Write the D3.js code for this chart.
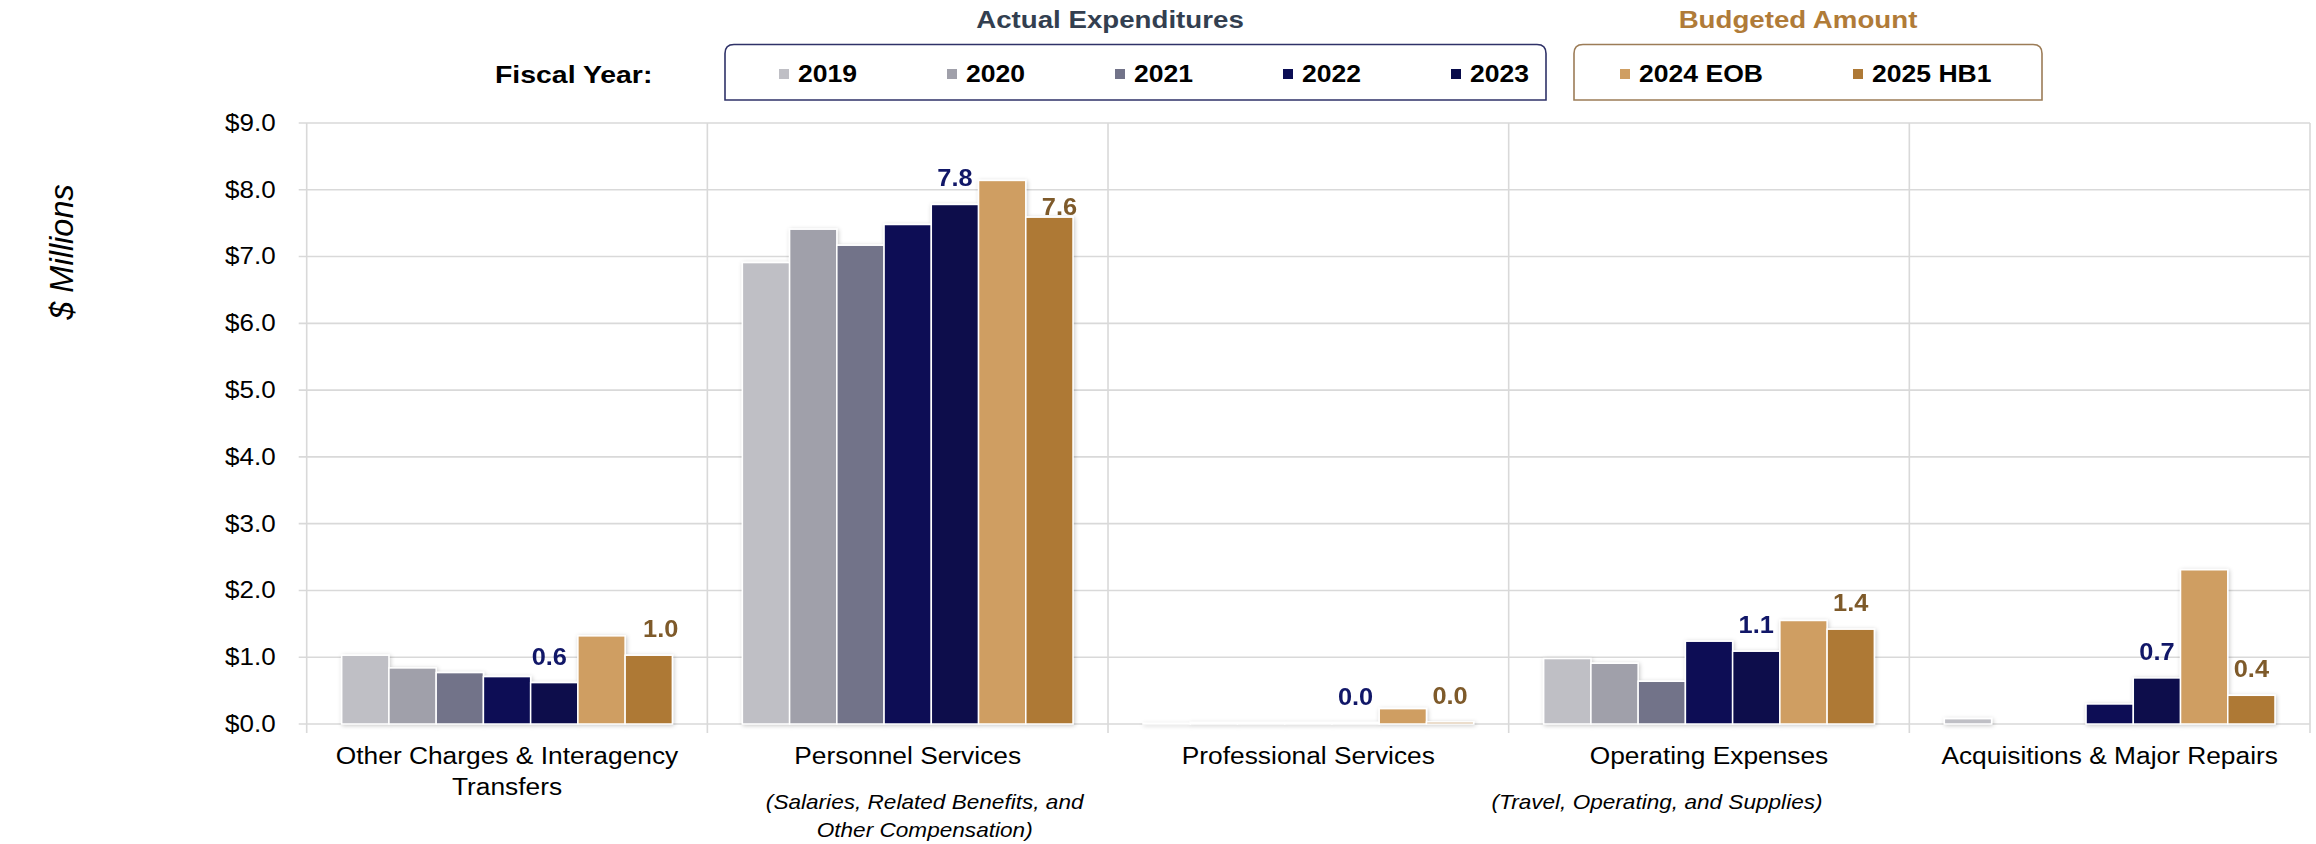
<!DOCTYPE html>
<html>
<head>
<meta charset="utf-8">
<script src="https://cdn.jsdelivr.net/npm/d3@7"></script>
<style>
  html, body { margin: 0; padding: 0; background: #fff; }
  svg { display: block; font-family: "Liberation Sans", Arial, sans-serif; }
</style>
</head>
<body>
<svg id="chart" width="2316" height="844"></svg>
<script>
// ---- data ($ millions) ----
const categories = [
  "Other Charges & Interagency Transfers",
  "Personnel Services",
  "Professional Services",
  "Operating Expenses",
  "Acquisitions & Major Repairs"
];
const seriesNames = ["2019", "2020", "2021", "2022", "2023", "2024 EOB", "2025 HB1"];
const fy2019 = [1.03, 6.91, 0.005, 0.98, 0.08];
const fy2020 = [0.84, 7.41, 0.02, 0.91, 0.0];
const fy2021 = [0.77, 7.17, 0.02, 0.64, 0.0];
const fy2022 = [0.71, 7.48, 0.02, 1.24, 0.30];
const fy2023 = [0.62, 7.78, 0.02, 1.09, 0.69];
const fy2024 = [1.32, 8.14, 0.23, 1.55, 2.31];
const fy2025 = [1.03, 7.59, 0.03, 1.42, 0.43];
const yTicks = [0, 1, 2, 3, 4, 5, 6, 7, 8, 9];
const categoryLines = [
  ["Other Charges & Interagency", "Transfers"],
  ["Personnel Services"],
  ["Professional Services"],
  ["Operating Expenses"],
  ["Acquisitions & Major Repairs"]
];
const categoryNotes = [
  [],
  ["(Salaries, Related Benefits, and", "Other Compensation)"],
  [],
  ["(Travel, Operating, and Supplies)"],
  []
];
const actualGroup = ["2019", "2020", "2021", "2022", "2023"];
const budgetGroup = ["2024 EOB", "2025 HB1"];

const seriesValues = [fy2019, fy2020, fy2021, fy2022, fy2023, fy2024, fy2025];
const colors = ["#BFBFC5", "#A0A0AA", "#727389", "#0B0E55", "#080B4B", "#CF9E62", "#AE7936"];
const labelColor = { "2023": "#111768", "2025 HB1": "#7E5A2A" };

// ---- layout ----
const SX = 1.13;               // horizontal text stretch
const FONT = '"Liberation Sans", Arial, sans-serif';
const plot = { left: 306.7, right: 2310, top: 123, bottom: 724 };

const svg = d3.select("#chart");

const x0 = d3.scaleBand().domain(categories).range([plot.left, plot.right]).padding(0);
const x1 = d3.scaleBand().domain(seriesNames).range([35, x0.bandwidth() - 35]).padding(0);
const y = d3.scaleLinear().domain([0, 9]).range([plot.bottom, plot.top]);
const color = d3.scaleOrdinal().domain(seriesNames).range(colors);

// text helper: places text with a slight horizontal stretch
function addText(parent, x, yy, str, o = {}) {
  return parent.append("text")
    .attr("transform", `translate(${x},${yy}) scale(${o.sx ?? SX},1)`)
    .attr("text-anchor", o.anchor || "middle")
    .attr("font-family", FONT)
    .attr("font-size", o.size || 23)
    .attr("font-weight", o.weight || "normal")
    .attr("font-style", o.style || "normal")
    .attr("fill", o.fill || "#000")
    .text(str);
}

// shadow for the bars
const defs = svg.append("defs");
const f = defs.append("filter").attr("id", "barShadow")
  .attr("x", "-20%").attr("y", "-20%").attr("width", "140%").attr("height", "140%");
f.append("feDropShadow").attr("dx", 1).attr("dy", 1).attr("stdDeviation", 2)
  .attr("flood-color", "#000").attr("flood-opacity", 0.22);

// ---- gridlines ----
const grid = svg.append("g").attr("stroke", "#D9D9D9").attr("stroke-width", 1.6);
grid.selectAll("line.h").data(yTicks).join("line")
  .attr("x1", plot.left - 8).attr("x2", plot.right)
  .attr("y1", d => y(d)).attr("y2", d => y(d));
const bounds = categories.map(c => x0(c)).concat([plot.right]);
grid.selectAll("line.v").data(bounds).join("line")
  .attr("x1", d => d).attr("x2", d => d)
  .attr("y1", plot.top).attr("y2", plot.bottom + 9);

// ---- y axis labels ----
const yAxis = d3.axisLeft(y).tickValues(yTicks).tickSize(8).tickPadding(19.5)
  .tickFormat(d => "$" + d.toFixed(1));
const ya = svg.append("g").attr("transform", `translate(${plot.left},0)`).call(yAxis);
ya.select(".domain").remove();
ya.selectAll(".tick line").remove();
ya.selectAll(".tick text")
  .attr("font-family", FONT).attr("font-size", 23).attr("fill", "#000")
  .attr("transform", `scale(${SX},1)`);

// y title
svg.append("text")
  .attr("transform", "translate(73,252) rotate(-90)")
  .attr("text-anchor", "middle")
  .attr("font-family", FONT).attr("font-size", 32.5).attr("font-style", "italic")
  .attr("fill", "#000")
  .text("$ Millions");

// ---- bars ----
const rows = categories.map((c, i) => ({
  cat: c, i,
  vals: seriesNames.map((s, k) => ({ s, k, v: seriesValues[k][i] }))
}));

const groups = svg.append("g").attr("filter", "url(#barShadow)")
  .selectAll("g").data(rows).join("g")
  .attr("transform", d => `translate(${x0(d.cat)},0)`);

groups.selectAll("rect").data(d => d.vals.filter(v => v.v > 0)).join("rect")
  .attr("x", d => x1(d.s))
  .attr("y", d => y(d.v))
  .attr("width", x1.bandwidth())
  .attr("height", d => y(0) - y(d.v))
  .attr("fill", d => color(d.s))
  .attr("stroke", "#fff")
  .attr("stroke-width", 1.5);

// ---- value labels (latest actual and proposed budget) ----
const labelNudge = {
  "2023": [[-5, 0], [0, 0], [0, 0], [0, 0], [0, 0]],
  "2025 HB1": [[12, 0], [10, 16], [0, 0], [0, 0], [0, 0]]
};
const lbl = svg.append("g");
rows.forEach(r => {
  ["2023", "2025 HB1"].forEach(s => {
    const k = seriesNames.indexOf(s);
    const v = seriesValues[k][r.i];
    const [nx, ny] = labelNudge[s][r.i];
    addText(lbl, x0(r.cat) + x1(s) + x1.bandwidth() / 2 + nx, y(v) - 18 + ny,
      v.toFixed(1), { size: 23.5, weight: "bold", fill: labelColor[s], sx: 1.08 });
  });
});

// ---- category labels ----
const cat = svg.append("g");
rows.forEach(r => {
  const cx = x0(r.cat) + x0.bandwidth() / 2;
  categoryLines[r.i].forEach((line, j) => addText(cat, cx, 764 + j * 31, line, { size: 23.3 }));
});
// explanatory notes under categories
const noteOffsets = [[], [17, 17], [], [-52], []];
rows.forEach(r => {
  const cx = x0(r.cat) + x0.bandwidth() / 2;
  categoryNotes[r.i].forEach((line, j) =>
    addText(cat, cx + noteOffsets[r.i][j], 809 + j * 28, line, { size: 20, style: "italic" }));
});

// ---- legend ----
const leg = svg.append("g");
function tabBox(x, yy, w, h, r, stroke) {
  const p = `M${x},${yy + h} L${x},${yy + r} Q${x},${yy} ${x + r},${yy} L${x + w - r},${yy} Q${x + w},${yy} ${x + w},${yy + r} L${x + w},${yy + h} Z`;
  leg.append("path").attr("d", p).attr("fill", "#fff").attr("stroke", stroke).attr("stroke-width", 1.6);
}
tabBox(725, 44.5, 821, 55.5, 9, "#2F3268");
tabBox(1574, 44.5, 468, 55.5, 9, "#9C7C57");

addText(leg, 1110, 27.5, "Actual Expenditures", { size: 24.5, weight: "bold", fill: "#333F50" });
addText(leg, 1798, 27.5, "Budgeted Amount", { size: 24.5, weight: "bold", fill: "#B07B38" });
addText(leg, 495, 83, "Fiscal Year:", { size: 24.5, weight: "bold", anchor: "start", sx: 1.16 });

const legendItem = (name, sx) => {
  leg.append("rect").attr("x", sx).attr("y", 69).attr("width", 10).attr("height", 10)
    .attr("fill", color(name));
  addText(leg, sx + 19, 81.5, name, { size: 23.5, weight: "bold", anchor: "start" });
};
actualGroup.forEach((n, i) => legendItem(n, 779 + i * 168));
budgetGroup.forEach((n, i) => legendItem(n, 1620 + i * 233));
</script>
</body>
</html>
